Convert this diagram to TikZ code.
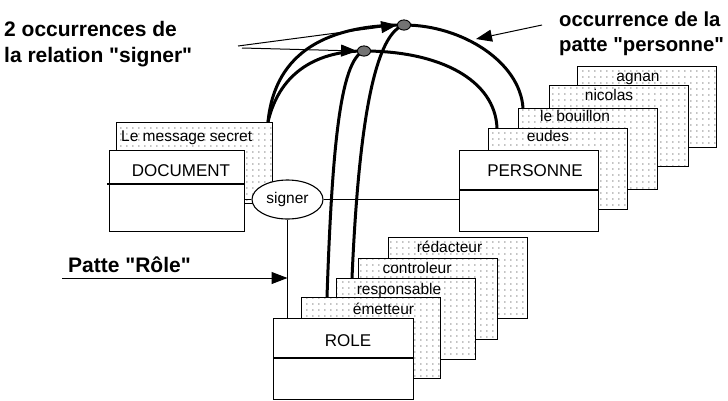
\documentclass[tikz,border=0pt]{standalone}
\usepackage{fontspec}
\setmainfont{Liberation Sans}[Ligatures=TeXOff]
\usetikzlibrary{patterns.meta,arrows.meta,shapes.geometric}
\tikzdeclarepattern{
  name=griddots,
  type=uncolored,
  bounding box={(0pt,0pt) and (6pt,5.7pt)},
  tile size={(6pt,5.7pt)},
  code={\fill (0.4pt,0.4pt) rectangle (1.7pt,1.6pt);}
}
\begin{document}
\begin{tikzpicture}[x=1pt,y=-1pt,
  box/.style={rectangle, draw, line width=1.1pt, fill=white, inner sep=0pt, anchor=north west},
  sheet/.style={rectangle, draw, line width=1.1pt, preaction={fill=white}, pattern=griddots, pattern color=black!55, inner sep=0pt, anchor=north west, minimum width=139pt, minimum height=81pt},
  clsname/.style={font=\fontsize{17}{20}\selectfont, anchor=base, inner sep=0pt},
  shlbl/.style={font=\fontsize{15.5}{18}\selectfont, anchor=base, inner sep=0pt},
  note/.style={font=\fontsize{21}{24}\selectfont\bfseries, anchor=base west, inner sep=0pt},
  noteR/.style={font=\fontsize{20.3}{24}\selectfont\bfseries, anchor=base west, inner sep=0pt},
  heavy/.style={line width=3pt},
  thinline/.style={line width=1pt},
  arr/.style={line width=1pt, -{Triangle[length=16pt,width=12pt]}},
  occdot/.style={ellipse, draw, line width=0.8pt, fill=black!55, minimum width=13pt, minimum height=10pt, inner sep=0pt}
]
\useasboundingbox (0,0) rectangle (728,400);

% ---- PERSONNE stack
\node[sheet] (agnan) at (577,66) {};
\node[shlbl] (lagnan) at (638,81.5) {agnan};
\node[sheet] (nicolas) at (549,85) {};
\node[shlbl] (lnicolas) at (609,100) {nicolas};
\node[sheet] (bouillon) at (518,108) {};
\node[shlbl] (lbouillon) at (575,121) {le bouillon};
\node[sheet] (eudes) at (488,128) {};
\node[shlbl] (leudes) at (548,141.5) {eudes};
\node[box, minimum width=139pt, minimum height=81pt] (pers) at (459,150) {};
\draw[line width=1.1pt] (459,190) -- (598,190);
\node[clsname] (lpers) at (535,176.5) {PERSONNE};

% ---- DOCUMENT
\node[sheet, minimum width=156pt] (msg) at (116,122) {};
\node[shlbl, anchor=base west] (lmsg) at (121,141.5) {Le message secret};
\node[box, minimum width=135pt, minimum height=81pt] (doc) at (109,150) {};
\draw[line width=1.1pt] (107,184) -- (244,184);
\node[clsname] (ldoc) at (181,176) {DOCUMENT};

% ---- ROLE stack
\node[sheet] (redac) at (388,237) {};
\node[shlbl] (lredac) at (449.5,252.5) {rédacteur};
\node[sheet] (contr) at (358,258) {};
\node[shlbl] (lcontr) at (417,273.5) {controleur};
\node[sheet] (resp) at (336,278) {};
\node[shlbl] (lresp) at (399,294) {responsable};
\node[sheet] (emet) at (301,297) {};
\node[shlbl] (lemet) at (383.5,314) {émetteur};
\node[box, minimum width=140pt, minimum height=81pt] (role) at (273,318) {};
\draw[line width=1.1pt] (273,358) -- (413,358);
\node[clsname] (lrole) at (348,346) {ROLE};

% ---- relation signer
\node[ellipse, draw, line width=1.1pt, fill=white, minimum width=71pt, minimum height=39pt, inner sep=0pt] (sig) at (287.5,199.5) {};
\node[shlbl, anchor=center] (lsig) at (sig.center) {signer};
\draw[thinline] (sig.west) -- (sig.west -| doc.east);
\draw[thinline] (sig.east) -- (sig.east -| pers.west);
\draw[thinline] (sig.south) -- (sig.south |- role.north);

% ---- occurrences
\node[occdot] (d1) at (364,51) {};
\node[occdot] (d2) at (404,25) {};
\coordinate (a0) at (268,122);
\coordinate (a1) at (497,128);
\coordinate (a2) at (523,108);
\coordinate (r1) at (327,297);
\coordinate (r2) at (352,278);
\draw[heavy] (a0) .. controls (275,50) and (330,25) .. (d2.center)
              .. controls (462,25) and (520,62) .. (a2);
\draw[heavy] (a0) .. controls (280,70) and (320,51) .. (d1.center)
              .. controls (440,51) and (495,80) .. (a1);
\draw[heavy] (r1) .. controls (332,150) and (340,60) .. (d1.center);
\draw[heavy] (r2) .. controls (358,140) and (372,35) .. (d2.center);
\node[occdot] at (d1) {};
\node[occdot] at (d2) {};

% ---- annotations
\node[note] (n1a) at (4,36.5) {2 occurrences de};
\node[note] (n1b) at (4,62.5) {la relation "signer"};
\node[noteR] (n2a) at (559,26.5) {occurrence de la};
\node[noteR] (n2b) at (559,51.5) {patte "personne"};
\node[note] (n3) at (68,272) {Patte "Rôle"};

\coordinate (t1) at (238,46);
\coordinate (t1b) at (242,48);
\draw[arr] (t1) -- (d2.west);
\draw[arr] (t1b) -- (d1.west);
\coordinate (t2) at (542,25);
\coordinate (t2e) at (476,39);
\draw[arr] (t2) -- (t2e);
\coordinate (t3) at (62,278);
\draw[arr] (t3) -- (t3 -| sig.south);
\end{tikzpicture}
\end{document}
